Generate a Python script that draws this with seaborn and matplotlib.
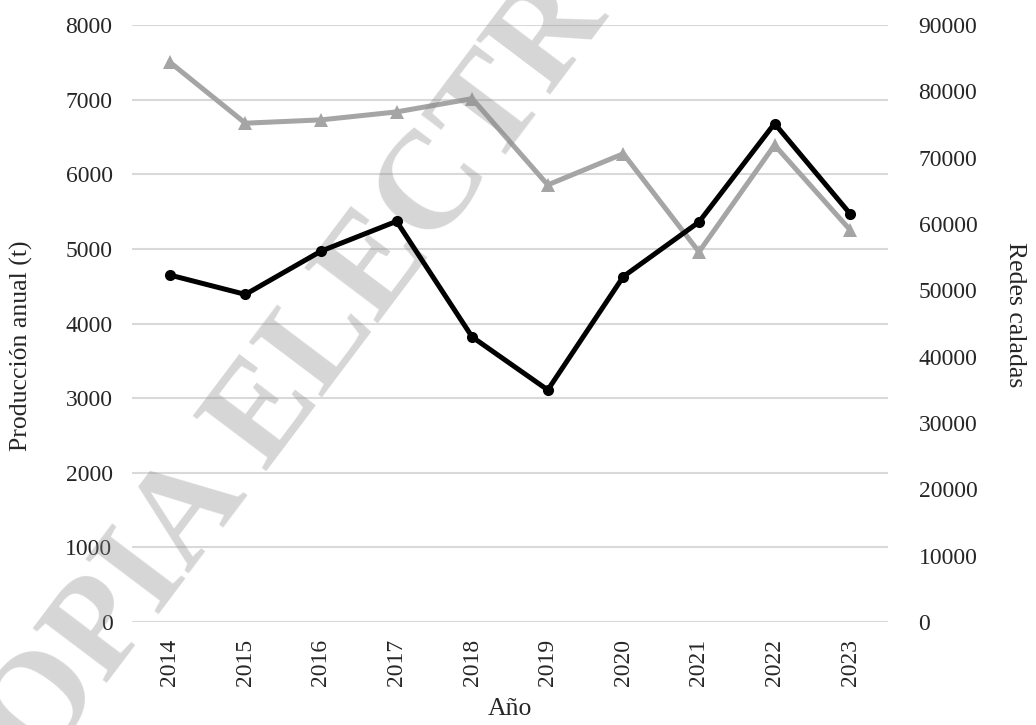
import matplotlib
matplotlib.use("Agg")
import matplotlib.pyplot as plt
import seaborn as sns
import pandas as pd

# Annual data
years = [2014, 2015, 2016, 2017, 2018, 2019, 2020, 2021, 2022, 2023]
produccion_t = [4650, 4390, 4970, 5370, 3820, 3110, 4630, 5360, 6680, 5470]
redes_caladas = [84400, 75200, 75700, 76900, 78900, 65900, 70600, 55800, 71900, 59100]

left_ticks = [0, 1000, 2000, 3000, 4000, 5000, 6000, 7000, 8000]
right_ticks = [0, 10000, 20000, 30000, 40000, 50000, 60000, 70000, 80000, 90000]

df = pd.DataFrame({"year": years, "prod": produccion_t, "redes": redes_caladas})

sns.set_theme(style="white")
plt.rcParams["font.family"] = ["Liberation Serif", "DejaVu Serif"]

fig = plt.figure(figsize=(10.36, 7.25), dpi=100)
ax = fig.add_axes([0.1274, 0.142, 0.7297, 0.8235])
ax2 = ax.twinx()
ax3 = ax.twinx()

FS = 17
LFS = 18.5
grid_color = "#d9d9d9"
gray = "#a5a5a5"

# Left axis: grid and scale for production
ax.set_ylim(0, 8000)
ax.set_yticks(left_ticks)
ax.set_xlim(2013.5, 2023.5)
ax.set_xticks(years)
ax.set_xticklabels([str(y) for y in years], rotation=90)
ax.grid(axis="y", color=grid_color, linewidth=1.5)
ax.grid(axis="x", visible=False)
ax.tick_params(axis="y", length=0, pad=14, labelsize=FS)
ax.tick_params(axis="x", length=0, pad=12, labelsize=FS)
for s in ax.spines.values():
    s.set_visible(False)
ax.set_ylabel("Producción anual (t)", fontsize=LFS)
ax.yaxis.set_label_coords(-0.131, 0.462)
ax.set_xlabel("Año", fontsize=LFS)
ax.xaxis.set_label_coords(0.5, -0.128)

# Right axis: nets deployed
sns.lineplot(data=df, x="year", y="redes", ax=ax2, color=gray, linewidth=3.6,
             marker="^", markersize=10, markeredgewidth=0, markerfacecolor=gray)
ax2.set_ylim(0, 90000)
ax2.set_yticks(right_ticks)
ax2.tick_params(axis="y", length=0, pad=22, labelsize=FS)
ax2.grid(False)
for s in ax2.spines.values():
    s.set_visible(False)
ax2.set_ylabel("Redes caladas", fontsize=LFS, rotation=-90, va="center")
ax2.yaxis.set_label_coords(1.168, 0.515)

# Watermark
ax2.text(-0.019, -0.174, "COPIA ELECTRÓNICA", transform=fig.transFigure,
         rotation=53.0, rotation_mode="anchor", ha="left", va="baseline",
         fontsize=100, fontweight="bold", color="#8a8a8a", alpha=0.35,
         family="Liberation Serif", clip_on=False, zorder=10)

# Production line on top, sharing the left scale
sns.lineplot(data=df, x="year", y="prod", ax=ax3, color="black", linewidth=3.6,
             marker="o", markersize=8, markeredgewidth=0, markerfacecolor="black")
ax3.set_ylim(ax.get_ylim())
ax3.set_yticks([])
ax3.set_ylabel("")
ax3.grid(False)
ax3.patch.set_visible(False)
for s in ax3.spines.values():
    s.set_visible(False)
ax3.set_zorder(5)

fig.savefig("out.png", dpi=100)
